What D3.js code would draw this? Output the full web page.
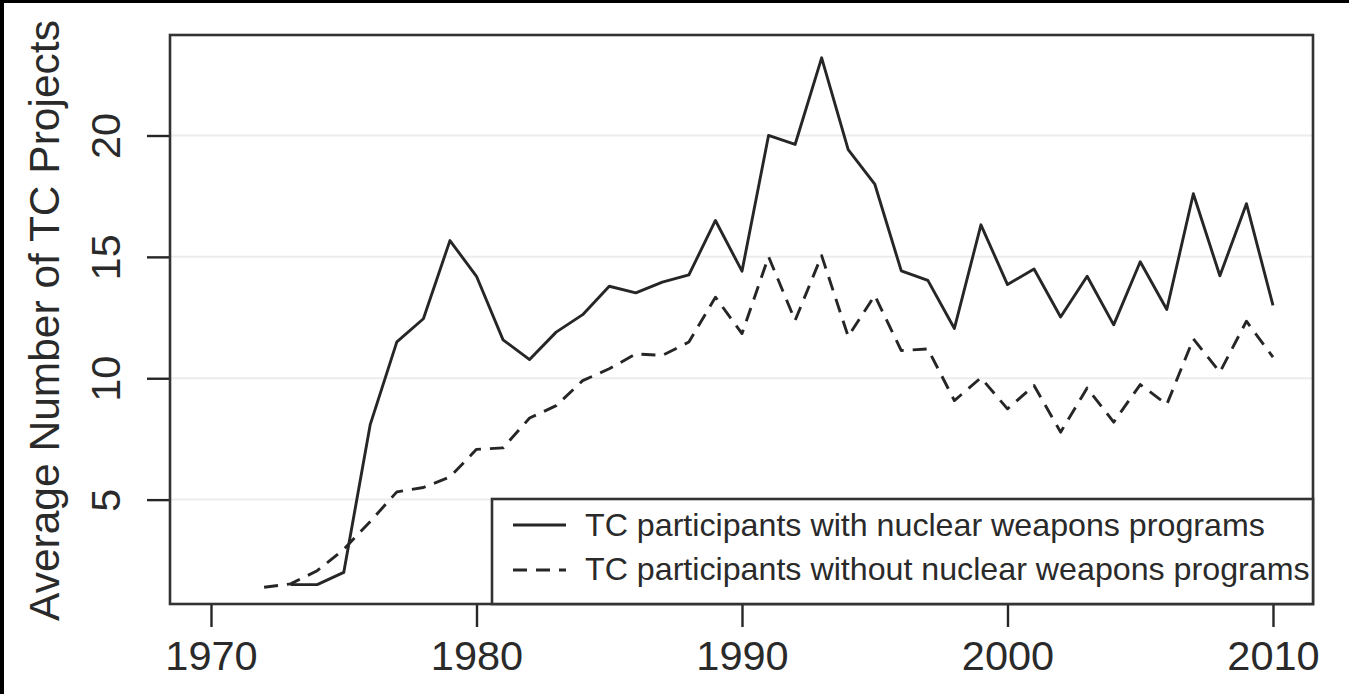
<!DOCTYPE html>
<html>
<head>
<meta charset="utf-8">
<script src="https://cdn.jsdelivr.net/npm/d3@7"></script>
<style>
  html, body { margin: 0; padding: 0; background: #fff; }
  svg { display: block; }
  text { font-family: "Liberation Sans", Arial, Helvetica, sans-serif; fill: #2a2a2a; }
</style>
</head>
<body>
<svg id="chart" width="1349" height="694"></svg>
<script>
// ---- data ----
const years = d3.range(1972, 2011);
const withNuclear = [
  null, 1.5, 1.5, 2.0, 8.1, 11.5, 12.45, 15.67, 14.2, 11.58,
  10.77, 11.9, 12.62, 13.79, 13.52, 13.96, 14.26, 16.5, 14.41, 20.0,
  19.63, 23.2, 19.42, 18.0, 14.42, 14.03, 12.05, 16.32, 13.86, 14.5,
  12.52, 14.2, 12.2, 14.8, 12.83, 17.6, 14.22, 17.19, 13.0
];
const withoutNuclear = [
  1.39, 1.53, 2.07, 2.95, 4.1, 5.32, 5.5, 5.93, 7.07, 7.13,
  8.36, 8.87, 9.9, 10.39, 11.0, 10.94, 11.49, 13.34, 11.84, 15.01,
  12.38, 15.05, 11.72, 13.41, 11.14, 11.21, 9.08, 10.02, 8.74, 9.7,
  7.78, 9.6, 8.19, 9.74, 8.92, 11.62, 10.25, 12.35, 10.87
];
const xTicks = [1970, 1980, 1990, 2000, 2010];
const yTicks = [5, 10, 15, 20];
const yTitle = "Average Number of TC Projects";
const legendLabels = [
  "TC participants with nuclear weapons programs",
  "TC participants without nuclear weapons programs"
];

// ---- layout ----
const svg = d3.select("#chart");
const plot = { left: 170, right: 1313, top: 35, bottom: 604 };
const ink = "#262626";
const lw = 2.9;
const dash = "14,9";

const x = d3.scaleLinear().domain([1968.456, 2011.507]).range([plot.left, plot.right]);
const y = d3.scaleLinear().domain([0.70, 24.14]).range([plot.bottom, plot.top]);

// gridlines
svg.append("g").selectAll("line").data(yTicks).join("line")
  .attr("x1", plot.left).attr("x2", plot.right)
  .attr("y1", d => y(d)).attr("y2", d => y(d))
  .attr("stroke", "#ececec").attr("stroke-width", 2);

// series
const line = d3.line()
  .defined(d => d.v != null)
  .x(d => x(d.year)).y(d => y(d.v));

const s1 = years.map((yr, i) => ({ year: yr, v: withNuclear[i] }));
const s2 = years.map((yr, i) => ({ year: yr, v: withoutNuclear[i] }));

svg.append("path").datum(s2).attr("d", line)
  .attr("fill", "none").attr("stroke", ink).attr("stroke-width", lw)
  .attr("stroke-dasharray", dash).attr("stroke-linejoin", "round");
svg.append("path").datum(s1).attr("d", line)
  .attr("fill", "none").attr("stroke", ink).attr("stroke-width", lw)
  .attr("stroke-linejoin", "round");

// x axis
const xAxis = d3.axisBottom(x).tickValues(xTicks).tickFormat(d3.format("d"))
  .tickSize(23).tickPadding(14);
const gx = svg.append("g").attr("transform", `translate(0,${plot.bottom})`).call(xAxis);
gx.select(".domain").remove();
gx.selectAll(".tick line").attr("stroke", ink).attr("stroke-width", 2.4);
gx.selectAll(".tick text").attr("font-size", 41.5).attr("fill", ink)
  .attr("font-family", '"Liberation Sans", Arial, sans-serif');

// y axis (labels rotated, R style)
const yAxis = d3.axisLeft(y).tickValues(yTicks).tickFormat(d3.format("d"))
  .tickSize(23).tickPadding(0);
const gy = svg.append("g").attr("transform", `translate(${plot.left},0)`).call(yAxis);
gy.select(".domain").remove();
gy.selectAll(".tick line").attr("stroke", ink).attr("stroke-width", 2.4);
gy.selectAll(".tick text")
  .attr("font-size", 41.5).attr("fill", ink)
  .attr("font-family", '"Liberation Sans", Arial, sans-serif')
  .attr("x", null).attr("dy", null)
  .attr("text-anchor", "middle")
  .attr("transform", "translate(-50,0) rotate(-90)");

// y title
svg.append("text")
  .attr("transform", `translate(59,${(20 + 621) / 2}) rotate(-90)`)
  .attr("text-anchor", "middle")
  .attr("font-size", 42.5)
  .text(yTitle);

// plot frame
svg.append("rect")
  .attr("x", plot.left).attr("y", plot.top)
  .attr("width", plot.right - plot.left).attr("height", plot.bottom - plot.top)
  .attr("fill", "none").attr("stroke", "#333").attr("stroke-width", 2.6);

// legend
const lg = { left: 492, top: 499, right: plot.right, bottom: plot.bottom };
svg.append("rect")
  .attr("x", lg.left).attr("y", lg.top)
  .attr("width", lg.right - lg.left).attr("height", lg.bottom - lg.top)
  .attr("fill", "#fff").attr("stroke", "#333").attr("stroke-width", 2.6);

const rows = [
  { label: legendLabels[0], dash: null, ly: 525, by: 536 },
  { label: legendLabels[1], dash: dash, ly: 570, by: 580 }
];
rows.forEach(r => {
  svg.append("line")
    .attr("x1", 513).attr("x2", 566).attr("y1", r.ly).attr("y2", r.ly)
    .attr("stroke", ink).attr("stroke-width", lw)
    .attr("stroke-dasharray", r.dash);
  svg.append("text")
    .attr("x", 585).attr("y", r.by)
    .attr("font-size", 32.2)
    .text(r.label);
});

// black screenshot border (top and left)
svg.append("rect").attr("x", 0).attr("y", 0).attr("width", 1349).attr("height", 3).attr("fill", "#000");
svg.append("rect").attr("x", 0).attr("y", 0).attr("width", 4).attr("height", 694).attr("fill", "#000");
</script>
</body>
</html>
